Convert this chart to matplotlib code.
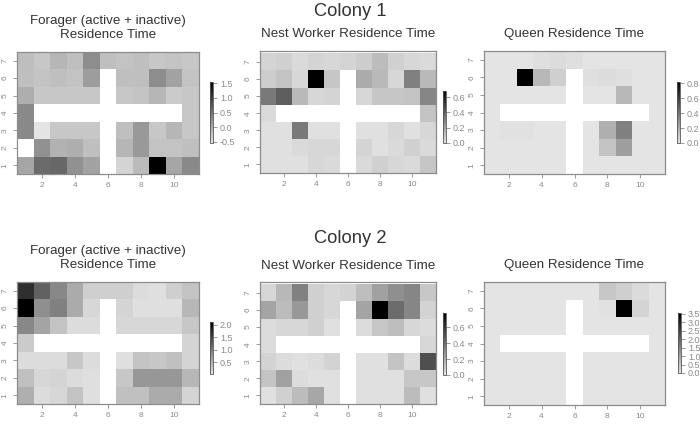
import numpy as np
import matplotlib
matplotlib.use("Agg")
import matplotlib.pyplot as plt
from matplotlib.colors import LinearSegmentedColormap

plt.rcParams['font.family'] = ['Liberation Sans', 'DejaVu Sans']

nan = np.nan
cols = list(range(1, 12))
rows = list(range(1, 8))
xticks = [2, 4, 6, 8, 10]

# values: rows listed bottom (row 1) to top (row 7), columns 1..11
forager_c1 = [
    [0.02, 0.56, 0.60, 0.22, 0.06, nan, -0.40, -0.17, 1.55, 0.02, 0.29],
    [nan, 0.22, -0.09, -0.05, -0.21, nan, -0.13, 0.14, -0.24, -0.24, -0.21],
    [0.29, -0.55, -0.28, -0.28, -0.28, nan, -0.21, 0.14, -0.28, -0.13, -0.28],
    [0.29, nan, nan, nan, nan, nan, nan, nan, nan, nan, -0.28],
    [-0.05, -0.28, -0.28, -0.28, -0.28, nan, -0.28, -0.24, -0.13, -0.32, -0.28],
    [-0.21, -0.24, -0.21, -0.24, 0.10, nan, -0.21, -0.21, 0.25, 0.06, -0.24],
    [-0.20, -0.28, -0.13, -0.21, 0.25, -0.21, -0.24, -0.21, -0.28, -0.24, -0.28],
]
nest_c1 = [
    [0.015, 0.015, 0.015, 0.04, 0.03, nan, 0.03, 0.06, 0.04, 0.03, 0.09],
    [0.015, 0.015, 0.03, 0.04, 0.04, nan, 0.05, 0.015, 0.03, 0.06, 0.03],
    [0.015, 0.015, 0.32, 0.015, 0.015, nan, 0.015, 0.015, 0.04, 0.015, 0.04],
    [0.03, nan, nan, nan, nan, nan, nan, nan, nan, nan, 0.10],
    [0.32, 0.40, 0.13, 0.04, 0.05, nan, 0.04, 0.09, 0.09, 0.10, 0.28],
    [0.07, 0.10, 0.04, 0.68, 0.09, nan, 0.17, 0.13, 0.04, 0.30, 0.13],
    [0.05, 0.06, 0.03, 0.05, 0.04, 0.05, 0.07, 0.12, 0.06, 0.04, 0.03],
]
queen_c1 = [
    [0.0, 0.0, 0.0, 0.0, 0.0, nan, 0.0, 0.0, 0.0, 0.0, 0.0],
    [0.0, 0.0, 0.0, 0.0, 0.0, nan, 0.0, 0.12, 0.25, 0.0, 0.0],
    [0.0, 0.01, 0.01, 0.0, 0.0, nan, 0.0, 0.19, 0.36, 0.0, 0.0],
    [0.0, nan, nan, nan, nan, nan, nan, nan, nan, nan, 0.0],
    [0.0, 0.0, 0.0, 0.0, 0.0, nan, 0.0, 0.0, 0.16, 0.0, 0.0],
    [0.0, 0.0, 0.82, 0.16, 0.075, nan, 0.02, 0.03, 0.02, 0.0, 0.0],
    [0.0, 0.0, 0.0, 0.02, 0.03, 0.02, 0.0, 0.0, 0.0, 0.0, 0.0],
]
forager_c2 = [
    [0.51, 0.11, 0.15, 0.33, 0.08, nan, 0.36, 0.36, 0.55, 0.55, 0.18],
    [0.36, 0.15, 0.18, 0.11, 0.08, nan, 0.29, 0.73, 0.73, 0.73, 0.44],
    [0.11, 0.11, 0.11, 0.29, 0.11, nan, 0.08, 0.33, 0.29, 0.36, 0.18],
    [0.26, nan, nan, nan, nan, nan, nan, nan, nan, nan, 0.18],
    [0.87, 0.62, 0.33, 0.11, 0.11, nan, 0.15, 0.15, 0.15, 0.15, 0.29],
    [2.10, 0.80, 0.94, 0.55, 0.15, nan, 0.18, 0.08, 0.08, 0.08, 0.44],
    [1.67, 1.23, 0.87, 0.55, 0.22, 0.22, 0.22, 0.11, 0.08, 0.22, 0.33],
]
nest_c2 = [
    [0.017, 0.07, 0.14, 0.21, 0.017, nan, 0.017, 0.017, 0.017, 0.14, 0.017],
    [0.11, 0.23, 0.03, 0.017, 0.017, nan, 0.017, 0.017, 0.017, 0.10, 0.10],
    [0.058, 0.03, 0.017, 0.03, 0.058, nan, 0.017, 0.017, 0.11, 0.03, 0.51],
    [0.03, nan, nan, nan, nan, nan, nan, nan, nan, nan, 0.044],
    [0.03, 0.044, 0.044, 0.07, 0.017, nan, 0.03, 0.10, 0.13, 0.044, 0.03],
    [0.22, 0.14, 0.26, 0.07, 0.044, nan, 0.22, 0.78, 0.41, 0.32, 0.058],
    [0.044, 0.15, 0.34, 0.07, 0.044, 0.058, 0.13, 0.23, 0.29, 0.32, 0.10],
]
queen_c2 = [
    [0.0, 0.0, 0.0, 0.0, 0.0, nan, 0.0, 0.0, 0.0, 0.0, 0.0],
    [0.0, 0.0, 0.0, 0.0, 0.0, nan, 0.0, 0.0, 0.0, 0.0, 0.0],
    [0.0, 0.0, 0.0, 0.0, 0.0, nan, 0.0, 0.0, 0.0, 0.0, 0.0],
    [0.0, nan, nan, nan, nan, nan, nan, nan, nan, nan, 0.0],
    [0.0, 0.0, 0.0, 0.0, 0.0, nan, 0.0, 0.0, 0.0, 0.0, 0.0],
    [0.0, 0.0, 0.0, 0.0, 0.0, nan, 0.0, 0.05, 3.55, 0.26, 0.0],
    [0.0, 0.0, 0.0, 0.0, 0.0, 0.0, 0.0, 0.45, 0.33, 0.14, 0.0],
]

colony_titles = ["Colony 1", "Colony 2"]
panel_titles = ["Forager (active + inactive)\nResidence Time",
                "Nest Worker Residence Time",
                "Queen Residence Time"]
panels = [forager_c1, nest_c1, queen_c1, forager_c2, nest_c2, queen_c2]
limits = [(-0.55, 1.55), (0.0, 0.68), (0.0, 0.82),
          (0.03, 2.10), (0.0, 0.78), (0.0, 3.55)]
cb_ticks = [[-0.5, 0.0, 0.5, 1.0, 1.5], [0.0, 0.2, 0.4, 0.6],
            [0.0, 0.2, 0.4, 0.6, 0.8], [0.5, 1.0, 1.5, 2.0],
            [0.0, 0.2, 0.4, 0.6], [0.0, 0.5, 1.0, 1.5, 2.0, 2.5, 3.0, 3.5]]

W, H = 700, 424
fig = plt.figure(figsize=(W / 100, H / 100), dpi=100)
fig.patch.set_facecolor('white')

def px_axes(x0, x1, ytop, ybot):
    return fig.add_axes([x0 / W, 1 - ybot / H, (x1 - x0) / W, (ybot - ytop) / H])

# pixel boxes (x0, x1, ytop, ybot)
ax_boxes = [(17, 199, 52, 174), (260, 436, 51, 173), (484, 665, 51, 174),
            (17, 199, 282, 404), (260, 436, 282, 404), (484, 665, 282, 405)]
cb_boxes = [(210, 213, 82, 143), (443, 446, 91, 143), (677, 680, 82, 143),
            (210, 213, 322, 374), (443, 446, 313, 375), (678, 681, 313, 373)]

cmap = LinearSegmentedColormap.from_list('grey_r', ['#e4e4e4', '#000000'])
cmap.set_bad('white')

xedges = np.arange(0.5, len(cols) + 1, 1.0)
yedges = np.arange(0.5, len(rows) + 1, 1.0)

tick_col = '#8a8a8a'
for i, data in enumerate(panels):
    ax = px_axes(*ax_boxes[i])
    arr = np.ma.masked_invalid(np.array(data, dtype=float))
    vmin, vmax = limits[i]
    m = ax.pcolormesh(xedges, yedges, arr, cmap=cmap, vmin=vmin, vmax=vmax)
    ax.set_facecolor('white')
    ax.set_xlim(0.5, 11.5)
    top = 7.64 if i in (1, 4) else 7.5
    ax.set_ylim(0.5, top)
    ax.set_xticks(xticks)
    ax.set_yticks(rows)
    ax.set_xticklabels([str(t) for t in xticks])
    ax.set_yticklabels([str(r) for r in rows], rotation=90, va='center')
    ax.tick_params(direction='out', length=3, width=0.6, color=tick_col,
                   labelsize=6, labelcolor=tick_col, pad=3)
    for s in ax.spines.values():
        s.set_edgecolor('#8c8c8c')
        s.set_linewidth(0.9)
    cax = px_axes(*cb_boxes[i])
    cb = fig.colorbar(m, cax=cax, ticks=cb_ticks[i])
    cb.ax.set_yticklabels([f"{t:.1f}" for t in cb_ticks[i]])
    cb.outline.set_edgecolor('#555555')
    cb.outline.set_linewidth(0.6)
    cax.tick_params(length=3, width=0.6, color=tick_col, labelsize=6.5,
                    labelcolor=tick_col, pad=2)

title_col = '#333333'
fig.text(350 / W, 1 - 12 / H, colony_titles[0], ha='center', va='center',
         fontsize=13.2, color=title_col)
fig.text(350 / W, 1 - 238 / H, colony_titles[1], ha='center', va='center',
         fontsize=13.2, color=title_col)

row_title_y = [(28, 34, 34), (258, 266, 265)]
centers = [108, 348, 574]
for r in range(2):
    for c in range(3):
        fig.text(centers[c] / W, 1 - row_title_y[r][c] / H, panel_titles[c],
                 ha='center', va='center', fontsize=9.6, color=title_col,
                 linespacing=1.2)

fig.savefig('out.png', dpi=100)
